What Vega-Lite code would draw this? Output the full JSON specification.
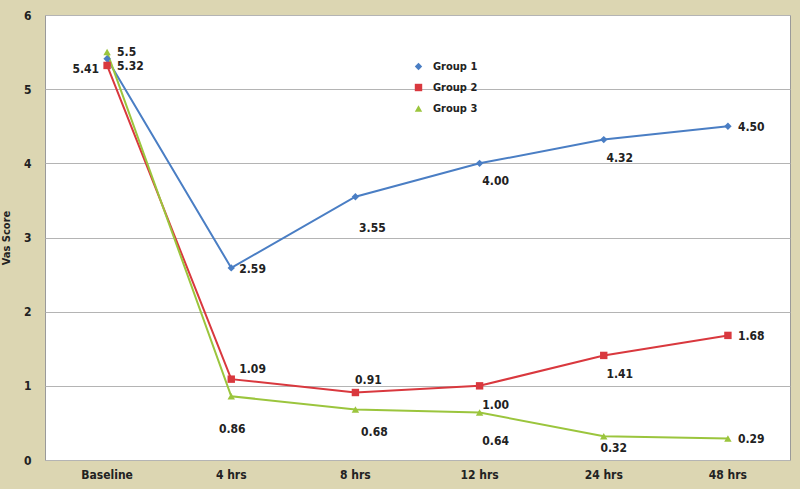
{
  "$schema": "https://vega.github.io/schema/vega-lite/v6.json",
  "width": 745,
  "height": 445,
  "autosize": {"type": "none"},
  "padding": {"left": 45, "top": 15, "right": 10, "bottom": 29},
  "background": "#dcd6b2",
  "config": {
    "view": {"fill": "white", "stroke": "#9a9a9a"},
    "font": "Liberation Sans Narrow, DejaVu Sans Condensed, sans-serif",
    "legend": {"title": null, "orient": "none", "legendX": 368, "legendY": 46, "labelFontWeight": "bold", "labelFontSize": 11, "labelColor": "#222", "rowPadding": 9, "symbolSize": 55, "labelOffset": 9, "symbolStrokeWidth": 0}
  },
  "data": {
    "values": [
      {"time": "Baseline", "group": "Group 1", "value": 5.41, "label": "5.41"},
      {"time": "4 hrs", "group": "Group 1", "value": 2.59, "label": "2.59"},
      {"time": "8 hrs", "group": "Group 1", "value": 3.55, "label": "3.55"},
      {"time": "12 hrs", "group": "Group 1", "value": 4.0, "label": "4.00"},
      {"time": "24 hrs", "group": "Group 1", "value": 4.32, "label": "4.32"},
      {"time": "48 hrs", "group": "Group 1", "value": 4.5, "label": "4.50"},
      {"time": "Baseline", "group": "Group 2", "value": 5.32, "label": "5.32"},
      {"time": "4 hrs", "group": "Group 2", "value": 1.09, "label": "1.09"},
      {"time": "8 hrs", "group": "Group 2", "value": 0.91, "label": "0.91"},
      {"time": "12 hrs", "group": "Group 2", "value": 1.0, "label": "1.00"},
      {"time": "24 hrs", "group": "Group 2", "value": 1.41, "label": "1.41"},
      {"time": "48 hrs", "group": "Group 2", "value": 1.68, "label": "1.68"},
      {"time": "Baseline", "group": "Group 3", "value": 5.5, "label": "5.5"},
      {"time": "4 hrs", "group": "Group 3", "value": 0.86, "label": "0.86"},
      {"time": "8 hrs", "group": "Group 3", "value": 0.68, "label": "0.68"},
      {"time": "12 hrs", "group": "Group 3", "value": 0.64, "label": "0.64"},
      {"time": "24 hrs", "group": "Group 3", "value": 0.32, "label": "0.32"},
      {"time": "48 hrs", "group": "Group 3", "value": 0.29, "label": "0.29"}
    ]
  },
  "encoding": {
    "x": {
      "field": "time", "type": "nominal",
      "sort": ["Baseline", "4 hrs", "8 hrs", "12 hrs", "24 hrs", "48 hrs"],
      "scale": {"type": "band", "paddingInner": 0, "paddingOuter": 0},
      "axis": {"title": null, "labelAngle": 0, "labelFontWeight": "bold", "labelFontSize": 12, "labelColor": "#222", "ticks": false, "domain": false, "labelPadding": 9}
    },
    "y": {
      "field": "value", "type": "quantitative",
      "scale": {"domain": [0, 6], "nice": false},
      "axis": {"title": "Vas Score", "titleFontSize": 11, "titleFontWeight": "bold", "titleColor": "#222", "titlePadding": 12, "values": [0,1,2,3,4,5,6], "labelFontWeight": "bold", "labelFontSize": 12, "labelColor": "#222", "ticks": false, "domain": false, "labelPadding": 14, "gridColor": "#b4b4b4", "gridOpacity": 1}
    }
  },
  "layer": [
    {
      "mark": {"type": "line", "strokeWidth": 2},
      "encoding": {
        "color": {"field": "group", "type": "nominal", "scale": {"domain": ["Group 1", "Group 2", "Group 3"], "range": ["#4a7ec4", "#d9383e", "#9bc53d"]}}
      }
    },
    {
      "mark": {"type": "point", "filled": true, "opacity": 1},
      "encoding": {
        "color": {"field": "group", "type": "nominal", "scale": {"domain": ["Group 1", "Group 2", "Group 3"], "range": ["#4a7ec4", "#d9383e", "#9bc53d"]}},
        "shape": {"field": "group", "type": "nominal", "scale": {"domain": ["Group 1", "Group 2", "Group 3"], "range": ["diamond", "square", "triangle-up"]}},
        "size": {"value": 55}
      }
    },
    {
      "transform": [{"filter": "datum.group === 'Group 1' && datum.time === 'Baseline'"}],
      "mark": {"type": "text", "align": "right", "dx": -8, "dy": 10, "fontWeight": "bold", "fontSize": 12, "color": "#222"},
      "encoding": {"text": {"field": "label"}}
    },
    {
      "transform": [{"filter": "(datum.group === 'Group 2' && datum.time === 'Baseline') || datum.time === '48 hrs'"}],
      "mark": {"type": "text", "align": "left", "dx": 10, "dy": 1, "fontWeight": "bold", "fontSize": 12, "color": "#222"},
      "encoding": {"text": {"field": "label"}}
    },
    {
      "transform": [{"filter": "datum.group === 'Group 3' && datum.time === 'Baseline'"}],
      "mark": {"type": "text", "align": "left", "dx": 10, "dy": 0, "fontWeight": "bold", "fontSize": 12, "color": "#222"},
      "encoding": {"text": {"field": "label"}}
    },
    {
      "transform": [{"filter": "datum.group === 'Group 1' && datum.time === '4 hrs'"}],
      "mark": {"type": "text", "align": "left", "dx": 8, "dy": 1, "fontWeight": "bold", "fontSize": 12, "color": "#222"},
      "encoding": {"text": {"field": "label"}}
    },
    {
      "transform": [{"filter": "datum.group === 'Group 1' && datum.time === '8 hrs'"}],
      "mark": {"type": "text", "align": "center", "dx": 17, "dy": 31, "fontWeight": "bold", "fontSize": 12, "color": "#222"},
      "encoding": {"text": {"field": "label"}}
    },
    {
      "transform": [{"filter": "datum.group === 'Group 1' && (datum.time === '12 hrs' || datum.time === '24 hrs')"}],
      "mark": {"type": "text", "align": "center", "dx": 16, "dy": 18, "fontWeight": "bold", "fontSize": 12, "color": "#222"},
      "encoding": {"text": {"field": "label"}}
    },
    {
      "transform": [{"filter": "datum.group === 'Group 2' && datum.time === '4 hrs'"}],
      "mark": {"type": "text", "align": "left", "dx": 8, "dy": -10, "fontWeight": "bold", "fontSize": 12, "color": "#222"},
      "encoding": {"text": {"field": "label"}}
    },
    {
      "transform": [{"filter": "datum.group === 'Group 2' && datum.time === '8 hrs'"}],
      "mark": {"type": "text", "align": "center", "dx": 13, "dy": -13, "fontWeight": "bold", "fontSize": 12, "color": "#222"},
      "encoding": {"text": {"field": "label"}}
    },
    {
      "transform": [{"filter": "datum.group === 'Group 2' && (datum.time === '12 hrs' || datum.time === '24 hrs')"}],
      "mark": {"type": "text", "align": "center", "dx": 16, "dy": 19, "fontWeight": "bold", "fontSize": 12, "color": "#222"},
      "encoding": {"text": {"field": "label"}}
    },
    {
      "transform": [{"filter": "datum.group === 'Group 3' && datum.time === '4 hrs'"}],
      "mark": {"type": "text", "align": "center", "dx": 1, "dy": 33, "fontWeight": "bold", "fontSize": 12, "color": "#222"},
      "encoding": {"text": {"field": "label"}}
    },
    {
      "transform": [{"filter": "datum.group === 'Group 3' && datum.time === '8 hrs'"}],
      "mark": {"type": "text", "align": "center", "dx": 19, "dy": 22, "fontWeight": "bold", "fontSize": 12, "color": "#222"},
      "encoding": {"text": {"field": "label"}}
    },
    {
      "transform": [{"filter": "datum.group === 'Group 3' && datum.time === '12 hrs'"}],
      "mark": {"type": "text", "align": "center", "dx": 16, "dy": 28, "fontWeight": "bold", "fontSize": 12, "color": "#222"},
      "encoding": {"text": {"field": "label"}}
    },
    {
      "transform": [{"filter": "datum.group === 'Group 3' && datum.time === '24 hrs'"}],
      "mark": {"type": "text", "align": "center", "dx": 10, "dy": 12, "fontWeight": "bold", "fontSize": 12, "color": "#222"},
      "encoding": {"text": {"field": "label"}}
    }
  ]
}
